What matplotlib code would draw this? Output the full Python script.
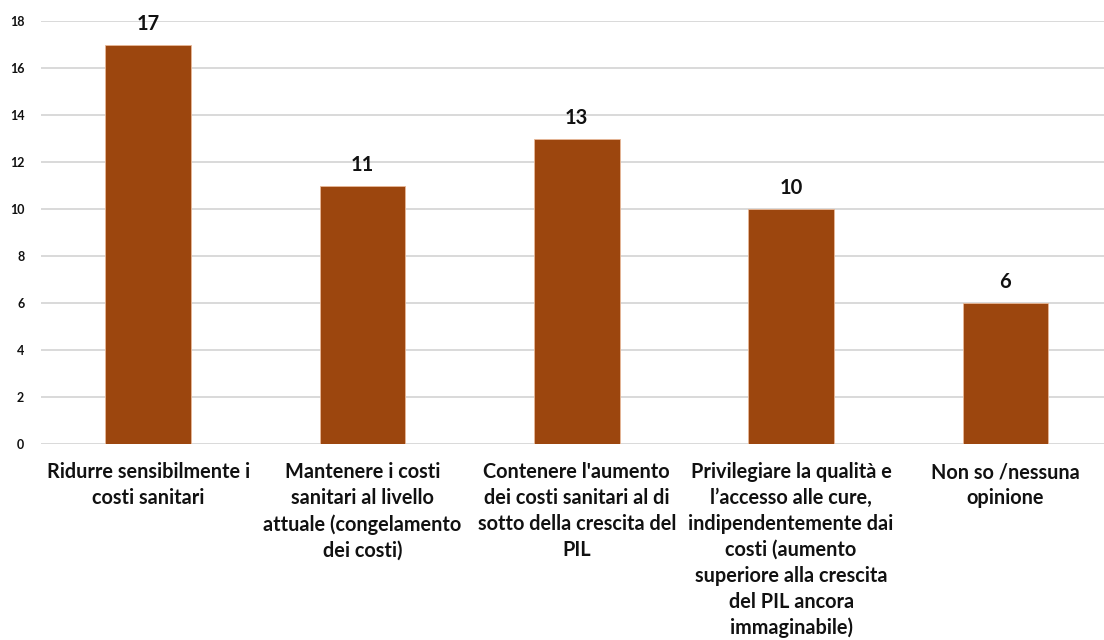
import matplotlib
matplotlib.use("Agg")
import matplotlib.pyplot as plt
import numpy as np

plt.rcParams["font.family"] = ["Lato", "DejaVu Sans"]

categories = [
    "Ridurre sensibilmente i\ncosti sanitari",
    "Mantenere i costi\nsanitari al livello\nattuale (congelamento\ndei costi)",
    "Contenere l'aumento\ndei costi sanitari al di\nsotto della crescita del\nPIL",
    "Privilegiare la qualità e\nl’accesso alle cure,\nindipendentemente dai\ncosti (aumento\nsuperiore alla crescita\ndel PIL ancora\nimmaginabile)",
    "Non so /nessuna\nopinione",
]
values = [17, 11, 13, 10, 6]
y_ticks = np.arange(0, 19, 2)

bar_color = "#9C460E"
text_color = "#111111"

fig = plt.figure(figsize=(11.04, 6.4), dpi=100)
ax = fig.add_axes([0.0371, 0.3062, 0.9629, 0.6609])

x = np.arange(len(categories))
ax.bar(x, values, width=0.40, color=bar_color, edgecolor="#E8B898",
       linewidth=0.6, zorder=3)

# value labels above each bar
for xi, v in zip(x, values):
    ax.text(xi, v + 0.45, f"{v}", ha="center", va="bottom",
            fontsize=14.5, fontweight="bold", color=text_color)

ax.set_ylim(0, 18)
ax.set_xlim(-0.5, 4.46)
ax.set_yticks(y_ticks)
ax.set_yticklabels([str(t) for t in y_ticks], fontsize=9, fontweight="bold",
                   color=text_color)
ax.set_xticks(x)
ax.set_xticklabels(categories, fontsize=14.3, fontweight="bold",
                   color=text_color, linespacing=1.37)
ax.tick_params(axis="y", length=0, pad=12)
ax.tick_params(axis="x", length=0, pad=13)

ax.grid(axis="y", color="#D9D9D9", linewidth=1.4, zorder=0)
for s in ax.spines.values():
    s.set_visible(False)

fig.savefig("out.png", dpi=100)
plt.close(fig)
